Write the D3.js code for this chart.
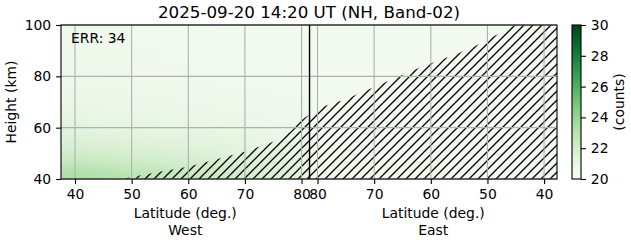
<!DOCTYPE html>
<html>
<head>
<meta charset="utf-8">
<script src="https://cdn.jsdelivr.net/npm/d3@7"></script>
<style>
  body { margin: 0; background: #fff; }
  svg { font-family: "DejaVu Sans", sans-serif; display: block; }
</style>
</head>
<body>
<div id="chart"></div>
<script>
// latitude ticks for each half (west runs up to the pole, east runs back down)
const westTicks = [40, 50, 60, 70, 80];
const eastTicks = [80, 70, 60, 50, 40];
const heightTicks = [40, 60, 80, 100];
const cbarTicks = [20, 22, 24, 26, 28, 30];

// heatmap cells: rows from 97.5 km down to 42.5 km (5 km each)
const gridHeights = [97.5, 92.5, 87.5, 82.5, 77.5, 72.5, 67.5, 62.5, 57.5, 52.5, 47.5, 42.5];
const westLats = [40, 45, 50, 55, 60, 65, 70, 75, 80];
const eastLats = [80, 75, 70, 65, 60, 55, 50, 45, 40];
const westGrid = [
  [20.5, 20.5, 20.4, 20.4, 20.4, 20.3, 20.3, 20.3, 20.3],
  [20.5, 20.5, 20.4, 20.4, 20.4, 20.3, 20.3, 20.3, 20.3],
  [20.5, 20.5, 20.5, 20.4, 20.4, 20.4, 20.3, 20.3, 20.3],
  [20.6, 20.5, 20.5, 20.5, 20.4, 20.4, 20.4, 20.3, 20.3],
  [20.6, 20.6, 20.5, 20.5, 20.5, 20.4, 20.4, 20.4, 20.3],
  [20.7, 20.7, 20.6, 20.6, 20.5, 20.5, 20.5, 20.4, 20.4],
  [20.9, 20.8, 20.8, 20.7, 20.7, 20.6, 20.6, 20.5, 20.5],
  [21.1, 21.0, 21.0, 20.9, 20.9, 20.8, 20.7, 20.6, 20.6],
  [21.4, 21.3, 21.2, 21.1, 21.1, 21.0, 20.9, 20.8, 20.7],
  [21.8, 21.7, 21.6, 21.5, 21.4, 21.3, 21.2, 21.0, 20.9],
  [22.4, 22.3, 22.1, 22.0, 21.9, 21.7, 21.5, 21.3, 21.1],
  [23.2, 23.0, 22.8, 22.6, 22.4, 22.2, 21.9, 21.6, 21.3]
];
const eastGrid = [
  [20.3, 20.3, 20.3, 20.3, 20.3, 20.3, 20.3, 20.3, 20.3],
  [20.3, 20.3, 20.3, 20.3, 20.3, 20.3, 20.3, 20.3, 20.3],
  [20.3, 20.3, 20.3, 20.3, 20.3, 20.3, 20.3, 20.3, 20.3],
  [20.3, 20.3, 20.3, 20.3, 20.3, 20.3, 20.3, 20.3, 20.3],
  [20.3, 20.3, 20.3, 20.3, 20.3, 20.3, 20.3, 20.3, 20.3],
  [20.3, 20.3, 20.3, 20.3, 20.3, 20.3, 20.3, 20.3, 20.3],
  [20.4, 20.3, 20.3, 20.3, 20.3, 20.3, 20.3, 20.3, 20.3],
  [20.4, 20.4, 20.3, 20.3, 20.3, 20.3, 20.3, 20.3, 20.3],
  [20.4, 20.4, 20.4, 20.3, 20.3, 20.3, 20.3, 20.3, 20.3],
  [20.4, 20.4, 20.4, 20.4, 20.4, 20.3, 20.3, 20.3, 20.3],
  [20.5, 20.5, 20.4, 20.4, 20.4, 20.4, 20.4, 20.4, 20.4],
  [20.5, 20.5, 20.5, 20.5, 20.5, 20.4, 20.4, 20.4, 20.4]
];

// edge of the hatched (no data) area
const westEdgeLat = [48.5, 50, 55, 60, 65, 70, 75, 78, 80];
const westEdgeHeight = [40, 40.8, 42.8, 44.8, 47.7, 50.6, 54.5, 58.4, 63];
const eastEdgeLat = [79.8, 75.4, 71.2, 67.1, 61.5, 55.3, 51.3, 47.8, 45.1];
const eastEdgeHeight = [67.7, 70.8, 74.7, 78.6, 83.8, 88.8, 92.7, 96.9, 100];

const width = 631, height = 243;
const margin = {top: 25, right: 74, bottom: 64, left: 61};
const poleU = 81.41;          // where the two halves meet
const westU = lat => lat;
const eastU = lat => 2 * poleU - lat;

const x = d3.scaleLinear().domain([37.53, 125.1]).range([margin.left, width - margin.right]);
const y = d3.scaleLinear().domain([40, 100]).range([height - margin.bottom, margin.top]);
const color = d3.scaleSequential(d3.interpolateGreens).domain([20, 30]);

const svg = d3.select('#chart').append('svg')
  .attr('width', width).attr('height', height);
const defs = svg.append('defs');

defs.append('clipPath').attr('id', 'clipW').append('rect')
  .attr('x', x(37.53)).attr('y', y(100)).attr('width', x(poleU) - x(37.53)).attr('height', y(40) - y(100));
defs.append('clipPath').attr('id', 'clipE').append('rect')
  .attr('x', x(poleU)).attr('y', y(100)).attr('width', x(125.1) - x(poleU)).attr('height', y(40) - y(100));
defs.append('clipPath').attr('id', 'clipAll').append('rect')
  .attr('x', x(37.53)).attr('y', y(100)).attr('width', x(125.1) - x(37.53)).attr('height', y(40) - y(100));

// hatch pattern
const hs = 9;
const pat = defs.append('pattern').attr('id', 'hatch')
  .attr('patternUnits', 'userSpaceOnUse').attr('width', hs).attr('height', hs);
pat.append('path')
  .attr('d', `M0,${hs} L${hs},0 M${-hs / 2},${hs / 2} L${hs / 2},${-hs / 2} M${hs / 2},${hs * 1.5} L${hs * 1.5},${hs / 2}`)
  .attr('stroke', '#000').attr('stroke-width', 1.3);

// heatmap: each grid becomes a small image, stretched over its half
function gridImage(grid, u0, u1, clip) {
  const cols = grid[0].length, rows = grid.length;
  const canvas = document.createElement('canvas');
  canvas.width = cols; canvas.height = rows;
  const ctx = canvas.getContext('2d');
  const img = ctx.createImageData(cols, rows);
  grid.forEach((row, r) => row.forEach((v, c) => {
    const col = d3.rgb(color(v));
    const k = (r * cols + c) * 4;
    img.data[k] = col.r; img.data[k + 1] = col.g; img.data[k + 2] = col.b; img.data[k + 3] = 255;
  }));
  ctx.putImageData(img, 0, 0);
  svg.append('image')
    .attr('href', canvas.toDataURL())
    .attr('x', x(u0)).attr('y', y(100))
    .attr('width', x(u1) - x(u0)).attr('height', y(40) - y(100))
    .attr('preserveAspectRatio', 'none')
    .attr('clip-path', `url(#${clip})`);
}
const westStep = westLats[1] - westLats[0];
gridImage(westGrid, westU(westLats[0]) - westStep / 2, westU(westLats[westLats.length - 1]) + westStep / 2, 'clipW');
gridImage(eastGrid, eastU(eastLats[0]) - westStep / 2, eastU(eastLats[eastLats.length - 1]) + westStep / 2, 'clipE');

// hatched region
const edge = westEdgeLat.map((d, i) => [westU(d), westEdgeHeight[i]])
  .concat(eastEdgeLat.map((d, i) => [eastU(d), eastEdgeHeight[i]]))
  .concat([[125.1, 100], [125.1, 40]]);
svg.append('path')
  .attr('d', d3.line().x(d => x(d[0])).y(d => y(d[1]))(edge) + 'Z')
  .attr('fill', 'url(#hatch)')
  .attr('clip-path', 'url(#clipAll)');

// grid
const tickU = westTicks.map(westU).concat(eastTicks.map(eastU));
const tickLabels = westTicks.concat(eastTicks);
svg.append('g').selectAll('line.v').data(tickU).join('line')
  .attr('x1', d => x(d)).attr('x2', d => x(d)).attr('y1', y(40)).attr('y2', y(100))
  .attr('stroke', '#b0b0b0').attr('stroke-width', 1.1);
svg.append('g').selectAll('line.h').data(heightTicks).join('line')
  .attr('x1', x(37.53)).attr('x2', x(125.1)).attr('y1', d => y(d)).attr('y2', d => y(d))
  .attr('stroke', '#b0b0b0').attr('stroke-width', 1.1);

// pole divider
svg.append('line')
  .attr('x1', x(poleU)).attr('x2', x(poleU)).attr('y1', y(40)).attr('y2', y(100))
  .attr('stroke', '#000').attr('stroke-width', 1.4);

// frame
svg.append('rect')
  .attr('x', x(37.53)).attr('y', y(100)).attr('width', x(125.1) - x(37.53)).attr('height', y(40) - y(100))
  .attr('fill', 'none').attr('stroke', '#000').attr('stroke-width', 1.1);

// axes
const fs = 13.9;
const xAxis = svg.append('g').attr('transform', `translate(0,${y(40)})`)
  .call(d3.axisBottom(x).tickValues(tickU).tickFormat((d, i) => tickLabels[i]).tickSize(4.9).tickPadding(4.9).tickSizeOuter(0));
const yAxis = svg.append('g').attr('transform', `translate(${x(37.53)},0)`)
  .call(d3.axisLeft(y).tickValues(heightTicks).tickSize(4.9).tickPadding(4.9).tickSizeOuter(0));
[xAxis, yAxis].forEach(g => {
  g.select('.domain').remove();
  g.selectAll('line').attr('stroke', '#000').attr('stroke-width', 1.1);
  g.selectAll('text').attr('fill', '#000').style('font-size', fs + 'px').style('font-family', '"DejaVu Sans", sans-serif');
});

const westMid = (x(37.53) + x(poleU)) / 2;
const eastMid = (x(poleU) + x(125.1)) / 2;
const labels = svg.append('g').style('font-size', fs + 'px').attr('text-anchor', 'middle');
labels.append('text').attr('x', westMid).attr('y', 218).text('Latitude (deg.)');
labels.append('text').attr('x', westMid).attr('y', 235).text('West');
labels.append('text').attr('x', eastMid).attr('y', 218).text('Latitude (deg.)');
labels.append('text').attr('x', eastMid).attr('y', 235).text('East');
labels.append('text').attr('transform', `translate(15.5,${(y(40) + y(100)) / 2}) rotate(-90)`).text('Height (km)');

svg.append('text').attr('x', (x(37.53) + x(125.1)) / 2).attr('y', 17.5)
  .attr('text-anchor', 'middle').style('font-size', '16.7px')
  .text('2025-09-20 14:20 UT (NH, Band-02)');

svg.append('text').attr('x', x(37.53) + 10).attr('y', 43)
  .style('font-size', fs + 'px').text('ERR: 34');

// colorbar
const cb = {x: 572, w: 9};
const cy = d3.scaleLinear().domain([20, 30]).range([y(40), y(100)]);
const grad = defs.append('linearGradient').attr('id', 'cbar')
  .attr('x1', 0).attr('y1', 1).attr('x2', 0).attr('y2', 0);
d3.range(0, 1.0001, 0.05).forEach(t => {
  grad.append('stop').attr('offset', t).attr('stop-color', color(20 + t * 10));
});
svg.append('rect').attr('x', cb.x).attr('y', cy(30)).attr('width', cb.w).attr('height', cy(20) - cy(30))
  .attr('fill', 'url(#cbar)').attr('stroke', '#000').attr('stroke-width', 1.1);
const cAxis = svg.append('g').attr('transform', `translate(${cb.x + cb.w},0)`)
  .call(d3.axisRight(cy).tickValues(cbarTicks).tickSize(4.9).tickPadding(4.9).tickSizeOuter(0));
cAxis.select('.domain').remove();
cAxis.selectAll('line').attr('stroke', '#000').attr('stroke-width', 1.1);
cAxis.selectAll('text').attr('fill', '#000').style('font-size', fs + 'px').style('font-family', '"DejaVu Sans", sans-serif');
svg.append('text').attr('transform', `translate(624,${(y(40) + y(100)) / 2}) rotate(-90)`)
  .attr('text-anchor', 'middle').style('font-size', fs + 'px').text('(counts)');
</script>
</body>
</html>
